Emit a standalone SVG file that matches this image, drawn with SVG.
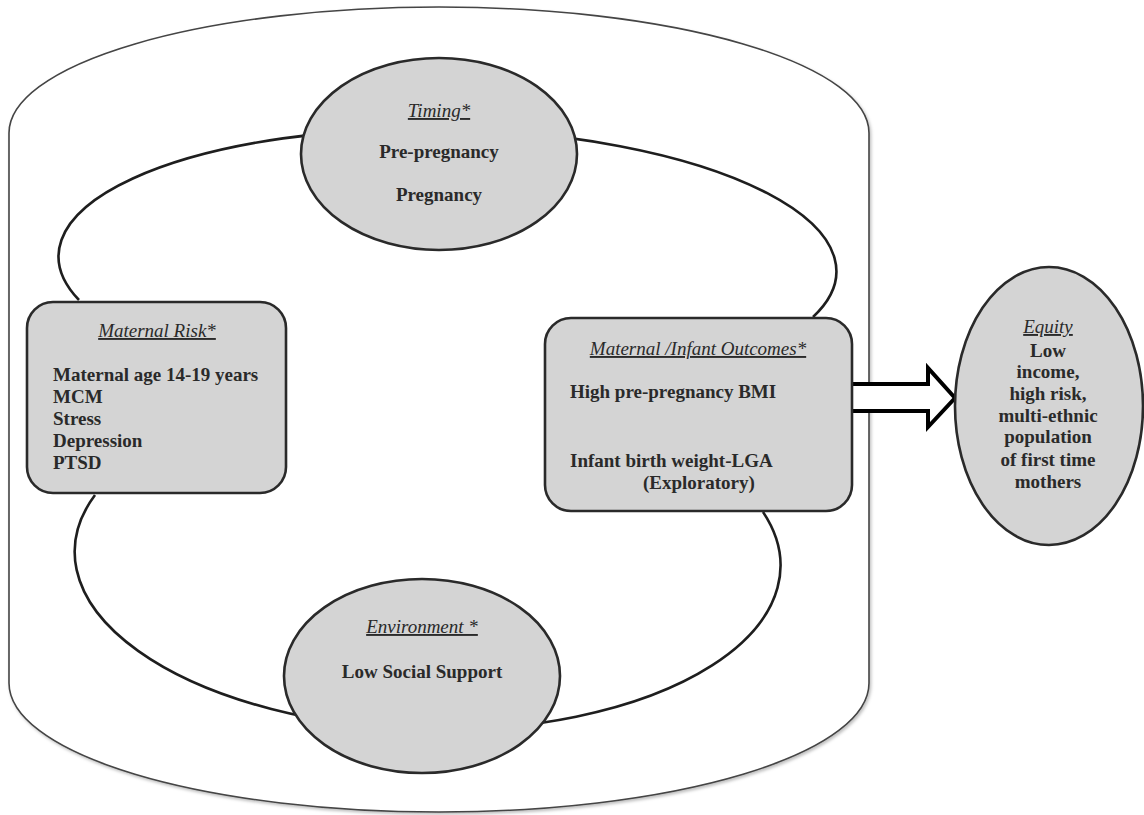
<svg xmlns="http://www.w3.org/2000/svg" width="1144" height="815" viewBox="0 0 1144 815">
<defs>
<filter id="sh" x="-5%" y="-5%" width="110%" height="110%">
<feDropShadow dx="1.5" dy="2" stdDeviation="1.5" flood-color="#000" flood-opacity="0.25"/>
</filter>
</defs>
<style>
.bg{fill:#fff}
.cyl{fill:#fff;stroke:#444;stroke-width:1.6}
.ring{fill:none;stroke:#1e1e1e;stroke-width:2.6}
.node{fill:#d4d4d4;stroke:#2a2a2a;stroke-width:2.6}
.t{font-family:"Liberation Serif","Times New Roman",serif;font-size:19px;fill:#2a2a2a}
.b{font-weight:bold}
.h{font-style:italic;text-decoration:underline}
.c{text-anchor:middle}
.arrow{fill:#fff;stroke:#000;stroke-width:4;stroke-linejoin:miter}
</style>
<rect class="bg" x="0" y="0" width="1144" height="815"/>
<g id="cylinder">
<path class="cyl" filter="url(#sh)" d="M9,133 A430 126 0 0 1 869,133 L869,683 A430 129 0 0 1 9,683 Z"/>
</g>
<g id="connectors">
<path class="ring" d="M79,300 A389 135 1.25 1 1 813,317"/>
<path class="ring" d="M95,495 A353 171 1.46 1 0 763,512"/>
<path class="arrow" d="M852,384 H928 V368 L955,398 L928,427 V411 H852"/>
</g>
<g id="timing">
<ellipse class="node" cx="439" cy="154" rx="138" ry="96"/>
<text class="t h c" x="439" y="117">Timing*</text>
<text class="t b c" x="439" y="158">Pre-pregnancy</text>
<text class="t b c" x="439" y="201">Pregnancy</text>
</g>
<g id="maternal-risk">
<rect class="node" x="27" y="302" width="259" height="191" rx="26" ry="26"/>
<text class="t h c" x="157" y="337">Maternal Risk*</text>
<text class="t b" x="53" y="381">Maternal age 14-19 years</text>
<text class="t b" x="53" y="403">MCM</text>
<text class="t b" x="53" y="425">Stress</text>
<text class="t b" x="53" y="447">Depression</text>
<text class="t b" x="53" y="469">PTSD</text>
</g>
<g id="outcomes">
<rect class="node" x="545" y="318" width="307" height="193" rx="26" ry="26"/>
<text class="t h c" x="698" y="355">Maternal /Infant Outcomes*</text>
<text class="t b" x="570" y="398">High pre-pregnancy BMI</text>
<text class="t b" x="570" y="467">Infant birth weight-LGA</text>
<text class="t b" x="643" y="489">(Exploratory)</text>
</g>
<g id="environment">
<ellipse class="node" cx="422" cy="676" rx="138" ry="97"/>
<text class="t h c" x="422" y="633">Environment *</text>
<text class="t b c" x="422" y="678">Low Social Support</text>
</g>
<g id="equity">
<ellipse class="node" cx="1049" cy="406" rx="94" ry="139"/>
<text class="t h c" x="1048" y="333">Equity</text>
<text class="t b c" x="1048" y="357">Low</text>
<text class="t b c" x="1048" y="378">income,</text>
<text class="t b c" x="1048" y="400">high risk,</text>
<text class="t b c" x="1048" y="422">multi-ethnic</text>
<text class="t b c" x="1048" y="443">population</text>
<text class="t b c" x="1048" y="466">of first time</text>
<text class="t b c" x="1048" y="488">mothers</text>
</g>
</svg>
